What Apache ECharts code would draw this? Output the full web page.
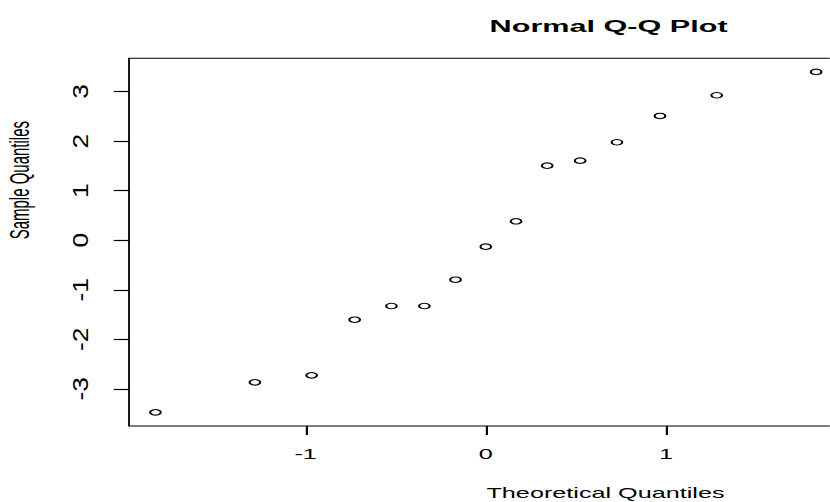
<!DOCTYPE html>
<html>
<head>
<meta charset="utf-8">
<script src="https://cdn.jsdelivr.net/npm/echarts@6/dist/echarts.min.js"></script>
<style>
  html, body { margin: 0; padding: 0; background: #fff; overflow: hidden; width: 830px; height: 502px; }
  .layer { position: absolute; left: 0; top: 0; transform-origin: 0 0; }
  #labels { pointer-events: none; }
</style>
</head>
<body>
<div id="chart" class="layer"></div>
<div id="labels" class="layer"></div>
<script>
// ---- data ----
const theoreticalQuantiles = [-1.834, -1.282, -0.967, -0.728, -0.524, -0.341, -0.168, 0, 0.168, 0.341, 0.524, 0.728, 0.967, 1.282, 1.834];
const sampleQuantiles      = [-3.474, -2.868, -2.727, -1.604, -1.328, -1.328, -0.797, -0.131, 0.381, 1.504, 1.605, 1.976, 2.507, 2.924, 3.395];
const xTickValues = [-1, 0, 1];
const yTickValues = [-3, -2, -1, 0, 1, 2, 3];
const xRange = [-1.981, 1.981];
const yRange = [-3.749, 3.670];
const titleText = 'Normal Q-Q Plot';
const xName = 'Theoretical Quantiles';
const yName = 'Sample Quantiles';

// ---- layout (the reference picture is stretched horizontally) ----
const SX = 1.8;      // horizontal stretch of the whole picture
const SY = 2.2;      // extra stretch of the rotated y tick labels along their baseline
const W = 830, H = 502;
const innerW = W / SX;
const FONT = '"Liberation Sans", Arial, Helvetica, sans-serif';
const plotLeft = 129 / SX, plotRight = 842.6 / SX, plotTop = 58.3, plotBottom = 426;

const el = document.getElementById('chart');
el.style.width = innerW + 'px';
el.style.height = H + 'px';
el.style.transform = 'scaleX(' + SX + ')';

const el2 = document.getElementById('labels');
el2.style.width = innerW + 'px';
el2.style.height = (H / SY) + 'px';
el2.style.transform = 'scale(' + SX + ',' + SY + ')';

const chart = echarts.init(el, null, { renderer: 'svg', width: innerW, height: H });
const points = theoreticalQuantiles.map((x, i) => [x, sampleQuantiles[i]]);

chart.setOption({
  animation: false,
  backgroundColor: '#fff',
  title: {
    text: titleText,
    left: 267, top: 12.5,
    textStyle: { fontFamily: FONT, fontWeight: 'bold', fontSize: 17, color: '#000' }
  },
  grid: {
    left: plotLeft, top: plotTop,
    width: plotRight - plotLeft, height: plotBottom - plotTop,
    show: true, borderColor: '#000', borderWidth: 1, backgroundColor: 'transparent',
    containLabel: false, outerBoundsMode: 'none'
  },
  xAxis: {
    type: 'value', min: xRange[0], max: xRange[1], position: 'bottom',
    splitLine: { show: false },
    axisLine: { show: false, onZero: false },
    axisTick: { show: true, length: 9, lineStyle: { color: '#000', width: 1.2 }, customValues: xTickValues },
    axisLabel: { show: true, customValues: xTickValues, margin: 21, fontFamily: FONT, fontSize: 14, color: '#000' },
    name: xName, nameLocation: 'middle', nameGap: 60.5,
    nameTextStyle: { fontFamily: FONT, fontSize: 14, color: '#000', padding: [0, 0, 0, 133] }
  },
  yAxis: {
    type: 'value', min: yRange[0], max: yRange[1], position: 'left',
    splitLine: { show: false },
    axisLine: { show: false, onZero: false },
    axisTick: { show: true, length: 15.3 / SX, lineStyle: { color: '#000', width: 1.2 }, customValues: yTickValues },
    axisLabel: { show: true, customValues: yTickValues, formatter: () => '' },
    name: yName, nameLocation: 'middle', nameGap: 53, nameRotate: 90,
    nameTextStyle: { fontFamily: FONT, fontSize: 15, color: '#000', padding: [0, 0, 0, 124] }
  },
  series: [{
    type: 'scatter',
    data: points,
    symbol: 'circle',
    symbolSize: [6, 5.5],
    itemStyle: { color: '#fff', borderColor: '#000', borderWidth: 1.1, opacity: 1 },
    emphasis: { disabled: true }
  }]
});

// y tick labels, drawn by the same y axis scale in a layer stretched along the label baseline
const labelChart = echarts.init(el2, null, { renderer: 'svg', width: innerW, height: H / SY });
labelChart.setOption({
  animation: false,
  backgroundColor: 'transparent',
  grid: {
    left: plotLeft, top: plotTop / SY,
    width: plotRight - plotLeft, height: (plotBottom - plotTop) / SY,
    show: false, containLabel: false, outerBoundsMode: 'none'
  },
  xAxis: { type: 'value', min: xRange[0], max: xRange[1], show: false },
  yAxis: {
    type: 'value', min: yRange[0], max: yRange[1], position: 'left',
    splitLine: { show: false },
    axisLine: { show: false, onZero: false },
    axisTick: { show: false },
    axisLabel: { show: true, customValues: yTickValues, rotate: 90, margin: 21, fontFamily: FONT, fontSize: 12, color: '#000' }
  },
  series: []
});
</script>
</body>
</html>
